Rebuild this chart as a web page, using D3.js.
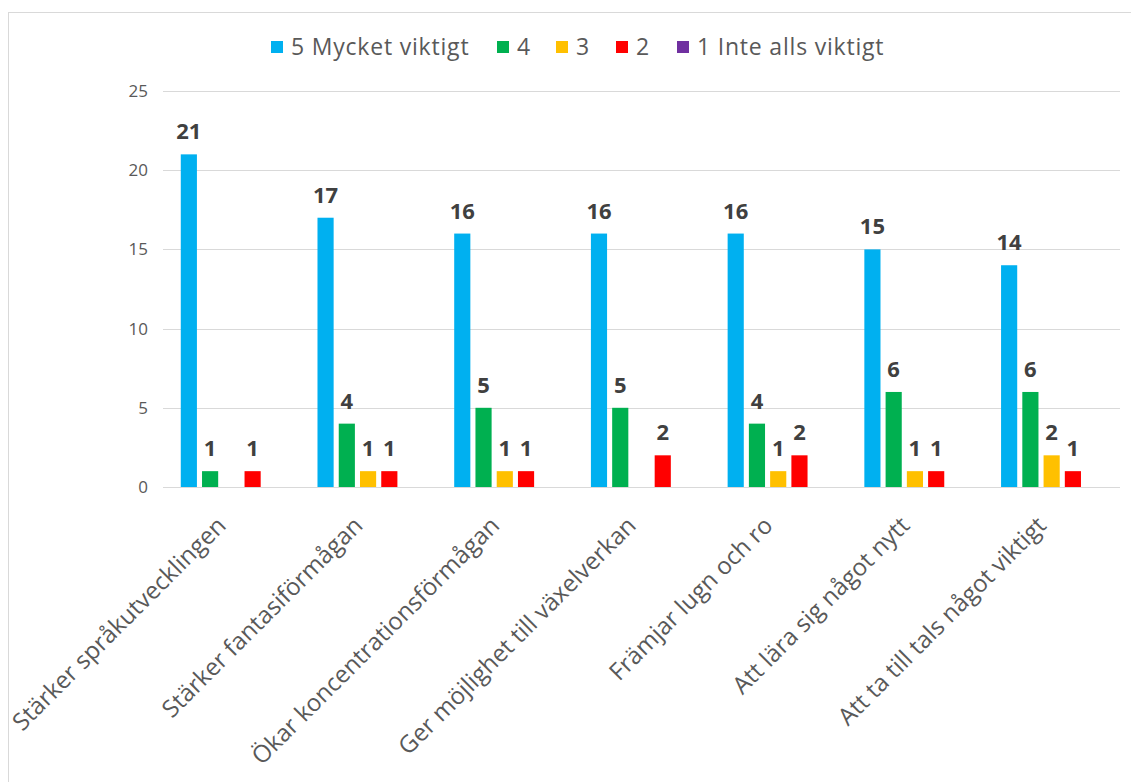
<!DOCTYPE html>
<html>
<head>
<meta charset="utf-8">
<script src="https://cdn.jsdelivr.net/npm/d3@7"></script>
<style>
  body { margin: 0; background: #fff; }
  svg { display: block; font-family: "Open Sans", "Noto Sans", sans-serif; }
</style>
</head>
<body>
<div id="chart"></div>
<script>
var categories = [
  'Stärker språkutvecklingen',
  'Stärker fantasiförmågan',
  'Ökar koncentrationsförmågan',
  'Ger möjlighet till växelverkan',
  'Främjar lugn och ro',
  'Att lära sig något nytt',
  'Att ta till tals något viktigt'
];
var seriesNames = ['5 Mycket viktigt', '4', '3', '2', '1 Inte alls viktigt'];
var seriesColors = ['#00B0F0', '#00B050', '#FFC000', '#FF0000', '#7030A0'];
var values5 = [21, 17, 16, 16, 16, 15, 14];
var values4 = [1, 4, 5, 5, 4, 6, 6];
var values3 = [0, 1, 1, 0, 1, 1, 2];
var values2 = [1, 1, 1, 2, 2, 1, 1];
var values1 = [0, 0, 0, 0, 0, 0, 0];
var yTicks = [0, 5, 10, 15, 20, 25];

var allValues = [values5, values4, values3, values2, values1];

var width = 1131, height = 782;
var svg = d3.select('#chart').append('svg')
  .attr('width', width)
  .attr('height', height);

// chart frame (runs off right/bottom edge like the screenshot)
svg.append('rect')
  .attr('x', 8.5).attr('y', 12.5)
  .attr('width', 1140).attr('height', 800)
  .attr('fill', '#fff')
  .attr('stroke', '#d9d9d9');

var x0 = d3.scaleBand().domain(categories).range([163, 1120]);
var x1 = d3.scaleBand().domain(seriesNames)
  .range([x0.bandwidth() * 0.13, x0.bandwidth() * 0.87])
  .paddingInner(0.24);
var y = d3.scaleLinear().domain([0, 25]).range([487, 91]);

// gridlines
svg.append('g')
  .selectAll('line')
  .data(yTicks)
  .enter()
  .append('line')
  .attr('x1', 163).attr('x2', 1120)
  .attr('y1', d => Math.round(y(d)) + 0.5)
  .attr('y2', d => Math.round(y(d)) + 0.5)
  .attr('stroke', '#d9d9d9')
  .attr('stroke-width', 1);

// y tick labels
svg.append('g')
  .selectAll('text')
  .data(yTicks)
  .enter()
  .append('text')
  .attr('x', 148)
  .attr('y', d => y(d))
  .attr('dy', '0.35em')
  .attr('text-anchor', 'end')
  .attr('font-size', 17)
  .attr('fill', '#595959')
  .text(d => d);

// bars
var groups = svg.append('g')
  .selectAll('g')
  .data(categories)
  .enter()
  .append('g')
  .attr('transform', d => 'translate(' + x0(d) + ',0)');

var cells = groups.selectAll('g')
  .data((c, i) => seriesNames.map((s, j) => ({ series: s, value: allValues[j][i], color: seriesColors[j] })))
  .enter()
  .append('g');

cells.append('rect')
  .attr('x', d => x1(d.series))
  .attr('width', x1.bandwidth())
  .attr('y', d => y(d.value))
  .attr('height', d => y(0) - y(d.value))
  .attr('fill', d => d.color);

cells.filter(d => d.value > 0)
  .append('text')
  .attr('x', d => x1(d.series) + x1.bandwidth() / 2)
  .attr('y', d => y(d.value) - 15)
  .attr('text-anchor', 'middle')
  .attr('font-size', 22)
  .attr('font-weight', 'bold')
  .attr('fill', '#404040')
  .text(d => d.value);

// x labels, rotated
svg.append('g')
  .selectAll('text')
  .data(categories)
  .enter()
  .append('text')
  .attr('transform', d => 'translate(' + (x0(d) + x0.bandwidth() / 2 - 4) + ',527) rotate(-45)')
  .attr('text-anchor', 'end')
  .attr('font-size', 24)
  .attr('fill', '#595959')
  .text(d => d);

// legend
var legendX = [271, 497, 556, 616, 677];
var legend = svg.append('g')
  .selectAll('g')
  .data(seriesNames)
  .enter()
  .append('g')
  .attr('transform', (d, i) => 'translate(' + legendX[i] + ',41)');

legend.append('rect')
  .attr('width', 12).attr('height', 12)
  .attr('fill', (d, i) => seriesColors[i]);

legend.append('text')
  .attr('x', 20).attr('y', 6)
  .attr('dy', '0.35em')
  .attr('font-size', 23)
  .attr('letter-spacing', 0.8)
  .attr('fill', '#595959')
  .text(d => d);
</script>
</body>
</html>
